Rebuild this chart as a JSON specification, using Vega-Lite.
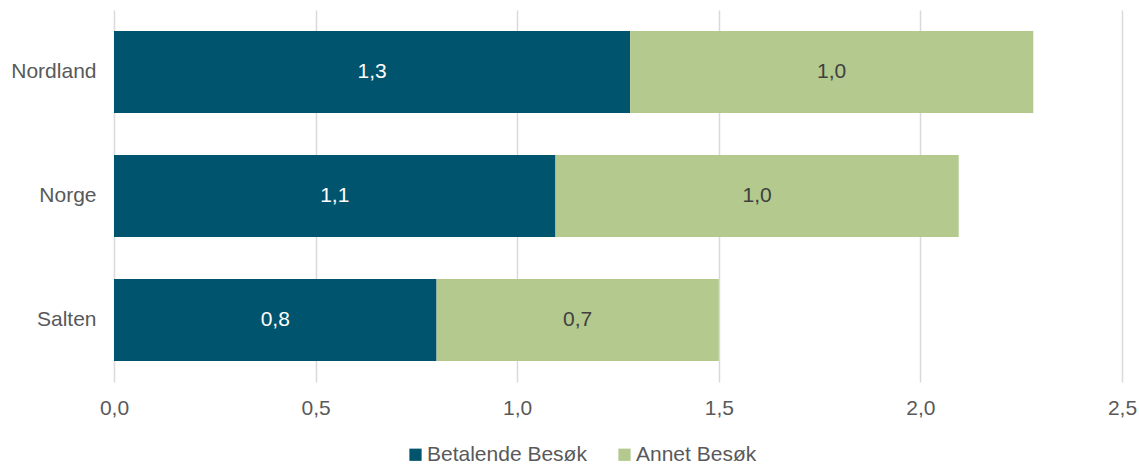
{
  "$schema": "https://vega.github.io/schema/vega-lite/v6.json",
  "width": 1008,
  "height": 372,
  "autosize": {"type": "none"},
  "padding": {"left": 114, "top": 10, "right": 17, "bottom": 84},
  "background": "white",
  "config": {
    "view": {"stroke": null},
    "font": "Liberation Sans",
    "locale": {"number": {"decimal": ",", "thousands": " ", "grouping": [3], "currency": ["", " kr"]}}
  },
  "data": {
    "values": [
      {"region": "Nordland", "type": "Betalende Besøk", "order": 1, "value": 1.28},
      {"region": "Nordland", "type": "Annet Besøk", "order": 2, "value": 1.0},
      {"region": "Norge", "type": "Betalende Besøk", "order": 1, "value": 1.095},
      {"region": "Norge", "type": "Annet Besøk", "order": 2, "value": 1.0},
      {"region": "Salten", "type": "Betalende Besøk", "order": 1, "value": 0.8},
      {"region": "Salten", "type": "Annet Besøk", "order": 2, "value": 0.7}
    ]
  },
  "transform": [
    {"stack": "value", "groupby": ["region"], "sort": [{"field": "order"}], "as": ["x0", "x1"]},
    {"calculate": "(datum.x0 + datum.x1) / 2", "as": "mid"}
  ],
  "encoding": {
    "y": {
      "field": "region", "type": "nominal", "sort": null,
      "scale": {"paddingInner": 0.34, "paddingOuter": 0.17},
      "axis": {"title": null, "domain": false, "ticks": false, "labelFontSize": 21, "labelFont": "Liberation Sans", "labelColor": "#595959", "labelPadding": 18}
    }
  },
  "layer": [
    {
      "mark": {"type": "bar"},
      "encoding": {
        "x": {
          "field": "x0", "type": "quantitative",
          "scale": {"domain": [0, 2.5], "nice": false},
          "axis": {"title": null, "values": [0, 0.5, 1, 1.5, 2, 2.5], "format": ".1f", "domain": false, "ticks": false,
                   "labelFontSize": 21, "labelFont": "Liberation Sans", "labelColor": "#595959", "labelPadding": 15,
                   "grid": true, "gridColor": "#d9d9d9", "gridWidth": 1.5, "labelFlush": false}
        },
        "x2": {"field": "x1"},
        "color": {
          "field": "type", "type": "nominal",
          "scale": {"domain": ["Betalende Besøk", "Annet Besøk"], "range": ["#00546E", "#B3C98E"]},
          "legend": {"title": null, "orient": "none", "direction": "horizontal", "legendX": 291, "legendY": 434,
                     "symbolType": "square", "symbolSize": 150, "symbolStrokeWidth": 0, "labelFontSize": 21, "labelFont": "Liberation Sans", "labelColor": "#595959",
                     "labelOffset": 1, "columnPadding": 27}
        }
      }
    },
    {
      "mark": {"type": "text", "fontSize": 21, "font": "Liberation Sans", "align": "center", "baseline": "middle"},
      "encoding": {
        "x": {"field": "mid", "type": "quantitative"},
        "text": {"field": "value", "type": "quantitative", "format": ".1f"},
        "color": {
          "field": "type", "type": "nominal",
          "scale": {"domain": ["Betalende Besøk", "Annet Besøk"], "range": ["#ffffff", "#404040"]},
          "legend": null
        }
      }
    }
  ],
  "resolve": {"scale": {"color": "independent"}}
}
